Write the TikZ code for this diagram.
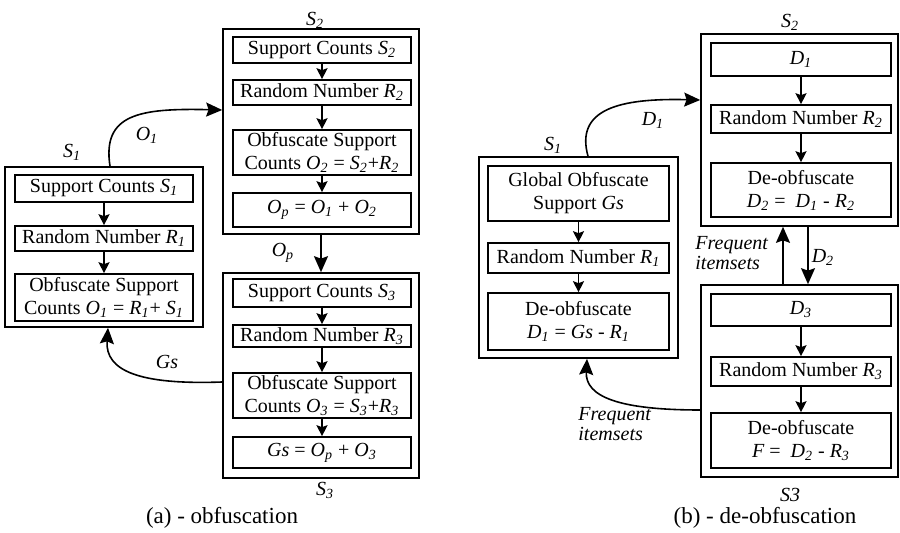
\documentclass[tikz,border=0pt]{standalone}
\usepackage{fontspec}
\setmainfont{Liberation Serif}
\usetikzlibrary{arrows.meta}
\newcommand{\vs}[2]{\textit{#1}\textsubscript{\textit{#2}}}
% \bx{style}{x1}{y1}{x2}{y2}{name}{text}
\newcommand{\bx}[7]{\node[#1, minimum width={(#4-#2)*0.5pt}, minimum height={(#5-#3)*0.5pt}] (#6) at ({(#2+#4)/2},{(#3+#5)/2}) {#7};}
\begin{document}
\begin{tikzpicture}[x=0.5pt,y=-0.5pt,
  outbox/.style={draw, line width=0.8pt, inner sep=0pt},
  inbox/.style={draw, line width=0.8pt, inner sep=0pt, align=center, font=\fontsize{10}{11.5}\selectfont},
  lbl/.style={font=\fontsize{10}{10}\selectfont\itshape, inner sep=0pt},
  flow/.style={line width=0.8pt, -{Stealth[length=5.5pt,width=5.5pt,inset=1pt]}},
  bigarr/.style={line width=0.8pt, -{Stealth[length=8pt,width=7pt,inset=1.2pt]}},
  captext/.style={font=\fontsize{11.5}{13}\selectfont, inner sep=0pt}
]
\useasboundingbox (0,0) rectangle (900,533);

% ---------- (a) obfuscation ----------
\bx{outbox}{5}{167}{203}{327}{S1a}{}
\bx{inbox}{15}{175}{193}{202}{a11}{Support Counts \vs{S}{1}}
\bx{inbox}{15}{226}{193}{251}{a12}{Random Number \vs{R}{1}}
\bx{inbox}{15}{274}{193}{321}{a13}{Obfuscate Support\\Counts \vs{O}{1} = \vs{R}{1}+ \vs{S}{1}}
\draw[flow] (a11) -- (a12);
\draw[flow] (a12) -- (a13);
\node[lbl] (lS1a) at (72,152) {\vs{S}{1}};

\bx{outbox}{223}{29}{419}{234}{S2a}{}
\bx{inbox}{233}{37}{411}{63}{a21}{Support Counts \vs{S}{2}}
\bx{inbox}{233}{80}{411}{105}{a22}{Random Number \vs{R}{2}}
\bx{inbox}{233}{130}{411}{175}{a23}{Obfuscate Support\\Counts \vs{O}{2} = \vs{S}{2}+\vs{R}{2}}
\bx{inbox}{233}{193}{411}{227}{a24}{\vs{O}{p} = \vs{O}{1} + \vs{O}{2}}
\draw[flow] (a21) -- (a22);
\draw[flow] (a22) -- (a23);
\draw[flow] (a23) -- (a24);
\node[lbl] (lS2a) at (315,20) {\vs{S}{2}};

\bx{outbox}{223}{273}{419}{478}{S3a}{}
\bx{inbox}{233}{279}{411}{307}{a31}{Support Counts \vs{S}{3}}
\bx{inbox}{233}{325}{411}{347}{a32}{Random Number \vs{R}{3}}
\bx{inbox}{233}{373}{411}{418}{a33}{Obfuscate Support\\Counts \vs{O}{3} = \vs{S}{3}+\vs{R}{3}}
\bx{inbox}{233}{437}{411}{468}{a34}{\textit{Gs} = \vs{O}{p} + \vs{O}{3}}
\draw[flow] (a31) -- (a32);
\draw[flow] (a32) -- (a33);
\draw[flow] (a33) -- (a34);
\node[lbl] (lS3a) at (325,490) {\vs{S}{3}};

\coordinate (o1x) at (110,0);
\coordinate (o1y) at (0,110);
\draw[bigarr] (S1a.north -| o1x) .. controls +(-8,-52) and +(-83,-2) .. (S2a.west |- o1y);
\node[lbl] (lO1) at (147,135) {\vs{O}{1}};

\draw[bigarr] (S2a) -- (S3a);
\node[lbl] (lOp) at (283,253) {\vs{O}{p}};

\coordinate (gsy) at (0,382);
\coordinate (gsx) at (108,0);
\draw[bigarr] (S3a.west |- gsy) .. controls +(-83,3) and +(-3,43) .. (S1a.south -| gsx);
\node[lbl] (lGs) at (167,362) {Gs};

\node[captext] (capa) at (222,518) {(a) - obfuscation};

% ---------- (b) de-obfuscation ----------
\bx{outbox}{479}{157}{678}{358}{S1b}{}
\bx{inbox}{488}{166}{669}{221}{b11}{Global Obfuscate\\Support \textit{Gs}}
\bx{inbox}{488}{243}{669}{273}{b12}{Random Number \vs{R}{1}}
\bx{inbox}{488}{293}{669}{350}{b13}{De-obfuscate\\\vs{D}{1} = \textit{Gs - }\vs{R}{1}}
\draw[flow] (b11) -- (b12);
\draw[flow] (b12) -- (b13);
\node[lbl] (lS1b) at (553,145) {\vs{S}{1}};

\bx{outbox}{701}{34}{898}{226}{S2b}{}
\bx{inbox}{711}{43}{891}{76}{b21}{\vs{D}{1}}
\bx{inbox}{711}{105}{891}{133}{b22}{Random Number \vs{R}{2}}
\bx{inbox}{711}{163}{891}{217}{b23}{De-obfuscate\\\vs{D}{2} = \ \vs{D}{1}\textit{ - }\vs{R}{2}}
\draw[flow] (b21) -- (b22);
\draw[flow] (b22) -- (b23);
\node[lbl] (lS2b) at (790,22) {\vs{S}{2}};

\bx{outbox}{701}{285}{898}{477}{S3b}{}
\bx{inbox}{711}{294}{891}{326}{b31}{\vs{D}{3}}
\bx{inbox}{711}{357}{891}{386}{b32}{Random Number \vs{R}{3}}
\bx{inbox}{711}{413}{891}{468}{b33}{De-obfuscate\\\textit{F} = \ \vs{D}{2}\textit{ - }\vs{R}{3}}
\draw[flow] (b31) -- (b32);
\draw[flow] (b32) -- (b33);
\node[lbl] (lS3b) at (790,495) {S3};

\coordinate (d1x) at (588,0);
\coordinate (d1y) at (0,100);
\draw[bigarr] (S1b.north -| d1x) .. controls +(-13,-47) and +(-81,-2) .. (S2b.west |- d1y);
\node[lbl] (lD1) at (653,120) {\vs{D}{1}};

\coordinate (fux) at (783,0);
\coordinate (fdx) at (808,0);
\draw[bigarr] (S3b.north -| fux) -- (S2b.south -| fux);
\node[lbl, align=left, anchor=west] (lFr1) at (695,253) {Frequent\\itemsets};
\draw[bigarr] (S2b.south -| fdx) -- (S3b.north -| fdx);
\node[lbl] (lD2) at (823,257) {\vs{D}{2}};

\coordinate (fry) at (0,410);
\coordinate (frx) at (587,0);
\draw[bigarr] (S3b.west |- fry) .. controls +(-81,0) and +(-2,38) .. (S1b.south -| frx);
\node[lbl, align=left, anchor=west] (lFr2) at (578,424) {Frequent\\itemsets};

\node[captext] (capb) at (765,518) {(b) - de-obfuscation};
\end{tikzpicture}
\end{document}
